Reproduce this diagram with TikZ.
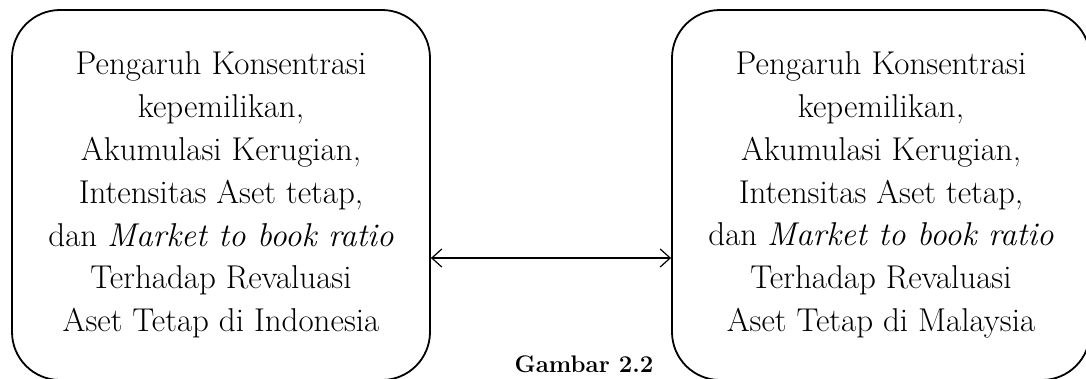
\documentclass[tikz,border=0pt]{standalone}
\usepackage{fontspec}
\usepackage{tikz}
\usetikzlibrary{arrows.meta,positioning}
\tikzset{
  rbox/.style={draw,line width=1.8pt,rounded corners=48pt,align=center,
    minimum width=418pt,minimum height=370pt,inner sep=0pt,
    font=\fontsize{33}{42.8}\selectfont},
  rflow/.style={{Straight Barb[length=10pt,width=18pt]}-{Straight Barb[length=10pt,width=18pt]},line width=1.2pt},
}
\begin{document}
\begin{tikzpicture}[x=1pt,y=1pt]
\useasboundingbox (0,-378) rectangle (1086,0);
\node[rbox] (indo) at (221,-195) {Pengaruh Konsentrasi\\kepemilikan,\\Akumulasi Kerugian,\\Intensitas Aset tetap,\\dan \textit{Market to book ratio}\\Terhadap Revaluasi\\Aset Tetap di Indonesia};
\node[rbox] (mal) at (881,-195) {Pengaruh Konsentrasi\\kepemilikan,\\Akumulasi Kerugian,\\Intensitas Aset tetap,\\dan \textit{Market to book ratio}\\Terhadap Revaluasi\\Aset Tetap di Malaysia};
\node[font=\fontsize{24}{28}\selectfont\bfseries,anchor=base,inner sep=0pt] (cap) at (584,-372) {Gambar 2.2};
\draw[rflow] (indo.east |- 0,-258) -- (mal.west |- 0,-258);
\end{tikzpicture}
\end{document}
